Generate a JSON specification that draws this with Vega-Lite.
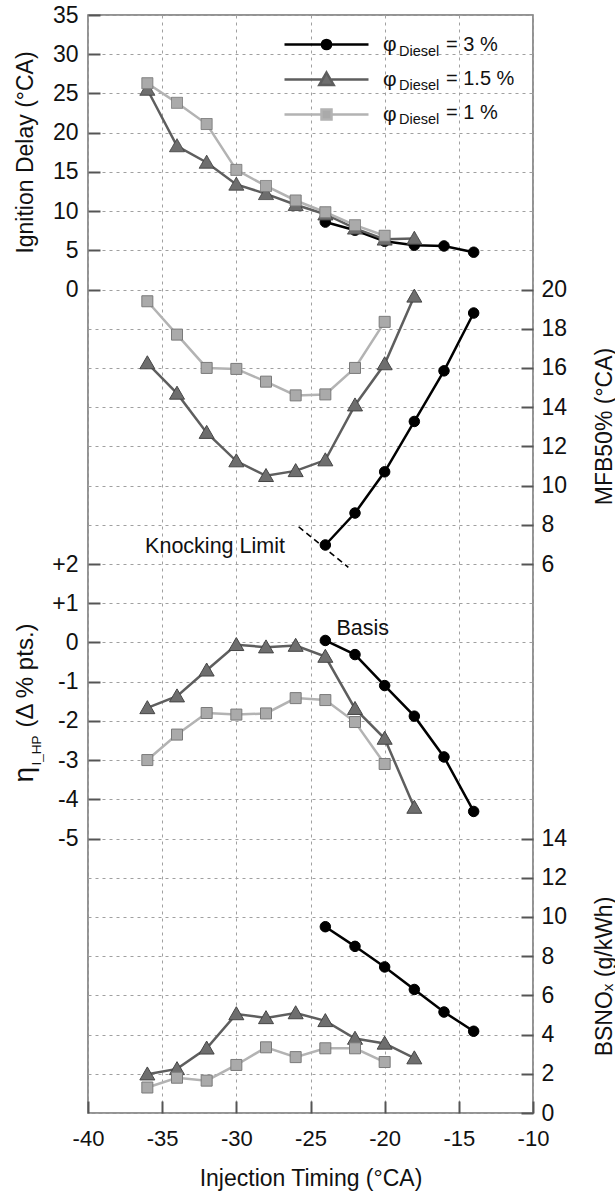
{
  "$schema": "https://vega.github.io/schema/vega-lite/v6.json",
  "width": 445,
  "height": 1098,
  "autosize": "none",
  "padding": {"left": 88, "top": 15, "right": 82, "bottom": 78},
  "background": "white",
  "config": {
    "font": "Liberation Sans",
    "view": {"stroke": "#707070", "strokeWidth": 1.5},
    "axis": {
      "labelFont": "Liberation Sans", "labelFontSize": 23, "labelColor": "#111",
      "titleFont": "Liberation Sans", "titleFontSize": 23, "titleFontWeight": "normal", "titleColor": "#111",
      "domain": false, "tickColor": "#555555", "tickWidth": 2, "tickSize": -12,
      "gridColor": "#a0a0a0", "gridDash": [3, 4], "gridWidth": 1,
      "labelFlush": false, "labelOverlap": false
    }
  },
  "data": {"values": [
    {"s": "3 %", "t": -24, "id": 8.6, "mfb": 6.97, "eta": 0.05, "nox": 9.5},
    {"s": "3 %", "t": -22, "id": 7.55, "mfb": 8.6, "eta": -0.31, "nox": 8.5},
    {"s": "3 %", "t": -20, "id": 6.15, "mfb": 10.7, "eta": -1.1, "nox": 7.45},
    {"s": "3 %", "t": -18, "id": 5.65, "mfb": 13.27, "eta": -1.88, "nox": 6.3},
    {"s": "3 %", "t": -16, "id": 5.55, "mfb": 15.85, "eta": -2.92, "nox": 5.15},
    {"s": "3 %", "t": -14, "id": 4.75, "mfb": 18.8, "eta": -4.31, "nox": 4.17},
    {"s": "1.5 %", "t": -36, "id": 25.5, "mfb": 16.25, "eta": -1.67, "nox": 1.98},
    {"s": "1.5 %", "t": -34, "id": 18.3, "mfb": 14.7, "eta": -1.37, "nox": 2.25},
    {"s": "1.5 %", "t": -32, "id": 16.2, "mfb": 12.7, "eta": -0.71, "nox": 3.3},
    {"s": "1.5 %", "t": -30, "id": 13.4, "mfb": 11.25, "eta": -0.06, "nox": 5.05},
    {"s": "1.5 %", "t": -28, "id": 12.2, "mfb": 10.5, "eta": -0.12, "nox": 4.85},
    {"s": "1.5 %", "t": -26, "id": 10.8, "mfb": 10.75, "eta": -0.08, "nox": 5.1},
    {"s": "1.5 %", "t": -24, "id": 9.6, "mfb": 11.3, "eta": -0.36, "nox": 4.7},
    {"s": "1.5 %", "t": -22, "id": 7.8, "mfb": 14.1, "eta": -1.69, "nox": 3.8},
    {"s": "1.5 %", "t": -20, "id": 6.4, "mfb": 16.2, "eta": -2.45, "nox": 3.55},
    {"s": "1.5 %", "t": -18, "id": 6.5, "mfb": 19.65, "eta": -4.21, "nox": 2.8},
    {"s": "1 %", "t": -36, "id": 26.3, "mfb": 19.4, "eta": -3.0, "nox": 1.3},
    {"s": "1 %", "t": -34, "id": 23.8, "mfb": 17.7, "eta": -2.35, "nox": 1.8},
    {"s": "1 %", "t": -32, "id": 21.1, "mfb": 16.0, "eta": -1.8, "nox": 1.65},
    {"s": "1 %", "t": -30, "id": 15.25, "mfb": 15.95, "eta": -1.84, "nox": 2.45},
    {"s": "1 %", "t": -28, "id": 13.2, "mfb": 15.3, "eta": -1.81, "nox": 3.35},
    {"s": "1 %", "t": -26, "id": 11.35, "mfb": 14.6, "eta": -1.42, "nox": 2.85},
    {"s": "1 %", "t": -24, "id": 9.85, "mfb": 14.65, "eta": -1.47, "nox": 3.3},
    {"s": "1 %", "t": -22, "id": 8.2, "mfb": 16.0, "eta": -2.03, "nox": 3.3},
    {"s": "1 %", "t": -20, "id": 6.85, "mfb": 18.35, "eta": -3.1, "nox": 2.6}
  ]},
  "encoding": {
    "x": {
      "field": "t", "type": "quantitative",
      "scale": {"domain": [-40, -10], "nice": false, "zero": false},
      "axis": {
        "values": [-40, -35, -30, -25, -20, -15, -10], "grid": true,
        "labelExpr": "'' + datum.value", "labelFontSize": 22, "labelPadding": 27,
        "title": "Injection Timing (°CA)", "titleY": 72, "titleBaseline": "alphabetic"
      }
    }
  },
  "layer": [
    {
      "encoding": {
        "y": {
          "field": "eta", "type": "quantitative",
          "scale": {"domain": [-12, 16], "nice": false, "zero": false},
          "axis": {
            "orient": "left",
            "values": [-12, -11, -10, -9, -8, -7, -6, -5, -4, -3, -2, -1, 0, 1, 2, 3, 4, 5, 6, 7, 8, 9, 10, 11, 12, 13, 14, 15, 16],
            "grid": true,
            "labelExpr": "datum.value >= -5 && datum.value <= 2 ? (datum.value > 0 ? '+' + datum.value : '' + datum.value) : ''",
            "tickOpacity": {"condition": {"test": "datum.value >= -5 && datum.value <= 2", "value": 1}, "value": 0},
            "labelPadding": 22,
            "title": "η", "titleFontSize": 28, "titleAngle": -90, "titleX": -56, "titleY": 767,
            "titleAlign": "left", "titleBaseline": "alphabetic"
          }
        }
      },
      "layer": [
        {
          "mark": {"type": "line", "strokeWidth": 2.5},
          "encoding": {"color": {"field": "s", "type": "nominal"}}
        },
        {
          "mark": {"type": "point", "filled": true, "opacity": 1, "strokeWidth": 1, "size": 100},
          "encoding": {
            "shape": {"field": "s", "type": "nominal", "legend": null},
            "fill": {"field": "s", "type": "nominal", "legend": null},
            "stroke": {"field": "s", "type": "nominal", "legend": null}
          }
        }
      ]
    },
    {
      "encoding": {
        "y": {
          "field": "id", "type": "quantitative",
          "scale": {"domain": [-105, 35], "nice": false, "zero": false},
          "axis": {
            "orient": "left", "values": [0, 5, 10, 15, 20, 25, 30, 35], "grid": false,
            "labelExpr": "'' + datum.value", "labelPadding": 22,
            "title": "Ignition Delay (°CA)", "titleAngle": -90, "titleX": -56, "titleY": 137,
            "titleAlign": "center", "titleBaseline": "alphabetic"
          }
        }
      },
      "layer": [
        {
          "mark": {"type": "line", "strokeWidth": 2.5},
          "encoding": {
            "color": {
              "field": "s", "type": "nominal",
              "scale": {"domain": ["3 %", "1.5 %", "1 %"], "range": ["#000000", "#5e5e5e", "#b3b3b3"]},
              "legend": {
                "orient": "none", "legendX": 227, "legendY": 18, "title": null, "padding": 0,
                "symbolSize": 400, "symbolStrokeWidth": 2.5, "labelOffset": 45, "rowPadding": 12, "labelLimit": 300,
                "labelFontSize": 21, "labelFont": "Liberation Sans", "labelColor": "#111",
                "labelExpr": "'φ'",
                "encode": {
                  "symbols": {
                    "update": {
                      "shape": {"signal": "datum.value === '3 %' ? 'M-4.2,0H-0.5M0.5,0H4.2M-0.46,0A0.46,0.46,0,1,1,0.46,0A0.46,0.46,0,1,1,-0.46,0Z' : datum.value === '1.5 %' ? 'M-4.2,0H-0.45M0.45,0H4.2M0,-0.7L0.72,0.56L-0.72,0.56Z' : 'M-4.2,0H-0.52M0.52,0H4.2M-0.5,-0.5H0.5V0.5H-0.5Z'"},
                      "fill": {"signal": "datum.value === '3 %' ? '#000000' : datum.value === '1.5 %' ? '#6e6e6e' : '#aaaaaa'"},
                      "strokeWidth": {"value": 2.5},
                      "opacity": {"value": 1}
                    }
                  }
                }
              }
            }
          }
        },
        {
          "mark": {"type": "point", "filled": true, "opacity": 1, "strokeWidth": 1, "size": 100},
          "encoding": {
            "shape": {"field": "s", "type": "nominal", "scale": {"range": ["M-1.1,-1.1H1.1V1.1H-1.1Z", "M0,-1.45L1.5,1.15L-1.5,1.15Z", "M-1.05,0A1.05,1.05,0,1,1,1.05,0A1.05,1.05,0,1,1,-1.05,0Z"]}, "legend": null},
            "fill": {"field": "s", "type": "nominal", "scale": {"range": ["#aaaaaa", "#6e6e6e", "#000000"]}, "legend": null},
            "stroke": {"field": "s", "type": "nominal", "scale": {"range": ["#7a7a7a", "#454545", "#000000"]}, "legend": null},
            "strokeDash": {
              "field": "s", "type": "nominal",
              "scale": {"domain": ["1 %", "1.5 %", "3 %"], "range": [[1, 0], [1, 0], [1, 0]]},
              "legend": {
                "orient": "none", "legendX": 243, "legendY": 25.5, "title": null, "padding": 0,
                "symbolSize": 400, "symbolStrokeWidth": 2.5, "symbolOpacity": 0, "labelOffset": 45, "rowPadding": 12, "labelLimit": 300,
                "labelFontSize": 14.5, "labelFont": "Liberation Sans", "labelColor": "#111",
                "labelExpr": "'Diesel'"
              }
            },
            "opacity": {
              "field": "s", "type": "ordinal", "sort": "descending",
              "scale": {"range": [1, 1]},
              "legend": {
                "orient": "none", "legendX": 290, "legendY": 18, "title": null, "padding": 0,
                "symbolSize": 400, "symbolStrokeWidth": 2.5, "symbolType": "M0,0", "symbolFillColor": "transparent", "symbolStrokeColor": "transparent",
                "labelOffset": 45, "rowPadding": 12, "labelLimit": 300,
                "labelFontSize": 20, "labelFont": "Liberation Sans", "labelColor": "#111",
                "labelExpr": "'= ' + datum.label"
              }
            }
          }
        }
      ]
    },
    {
      "encoding": {
        "y": {
          "field": "mfb", "type": "quantitative",
          "scale": {"domain": [-22, 34], "nice": false, "zero": false},
          "axis": {
            "orient": "right", "values": [6, 8, 10, 12, 14, 16, 18, 20], "grid": false,
            "labelExpr": "'' + datum.value", "labelPadding": 20,
            "title": "MFB50% (°CA)", "titleAngle": -90, "titleX": 78, "titleY": 411,
            "titleAlign": "center", "titleBaseline": "alphabetic"
          }
        }
      },
      "layer": [
        {
          "mark": {"type": "line", "strokeWidth": 2.5},
          "encoding": {"color": {"field": "s", "type": "nominal"}}
        },
        {
          "mark": {"type": "point", "filled": true, "opacity": 1, "strokeWidth": 1, "size": 100},
          "encoding": {
            "shape": {"field": "s", "type": "nominal", "legend": null},
            "fill": {"field": "s", "type": "nominal", "legend": null},
            "stroke": {"field": "s", "type": "nominal", "legend": null}
          }
        }
      ]
    },
    {
      "encoding": {
        "y": {
          "field": "nox", "type": "quantitative",
          "scale": {"domain": [0, 56], "nice": false, "zero": false},
          "axis": {
            "orient": "right", "values": [0, 2, 4, 6, 8, 10, 12, 14], "grid": false,
            "labelExpr": "'' + datum.value", "labelPadding": 20,
            "title": "BSNOₓ (g/kWh)", "titleAngle": -90, "titleX": 78, "titleY": 961,
            "titleAlign": "center", "titleBaseline": "alphabetic"
          }
        }
      },
      "layer": [
        {
          "mark": {"type": "line", "strokeWidth": 2.5},
          "encoding": {"color": {"field": "s", "type": "nominal"}}
        },
        {
          "mark": {"type": "point", "filled": true, "opacity": 1, "strokeWidth": 1, "size": 100},
          "encoding": {
            "shape": {"field": "s", "type": "nominal", "legend": null},
            "fill": {"field": "s", "type": "nominal", "legend": null},
            "stroke": {"field": "s", "type": "nominal", "legend": null}
          }
        }
      ]
    },
    {
      "transform": [{"filter": "datum.s === '3 %' && datum.t === -24"}],
      "mark": {"type": "rule", "strokeDash": [6, 4], "strokeWidth": 1.6, "color": "#000000"},
      "encoding": {
        "x": {"datum": -25.8}, "x2": {"datum": -22.45},
        "y": {"datum": 7.9, "type": "quantitative", "scale": {"domain": [-22, 34], "nice": false, "zero": false}, "axis": null},
        "y2": {"datum": 5.83}
      }
    },
    {
      "transform": [{"filter": "datum.s === '3 %' && datum.t === -24"}],
      "mark": {"type": "text", "text": "Knocking Limit", "align": "left", "baseline": "middle", "fontSize": 21.5, "color": "#111", "font": "Liberation Sans"},
      "encoding": {
        "x": {"datum": -36.15},
        "y": {
          "datum": 6.85, "type": "quantitative", "scale": {"domain": [-22, 34], "nice": false, "zero": false},
          "axis": {
            "orient": "left", "labels": false, "ticks": false, "grid": false, "domain": false,
            "title": "(Δ % pts.)", "titleFontSize": 24, "titleAngle": -90, "titleX": -56, "titleY": 712,
            "titleAlign": "left", "titleBaseline": "alphabetic"
          }
        }
      }
    },
    {
      "transform": [{"filter": "datum.s === '3 %' && datum.t === -24"}],
      "mark": {"type": "text", "text": "Basis", "align": "left", "baseline": "middle", "fontSize": 21.5, "color": "#111", "font": "Liberation Sans"},
      "encoding": {
        "x": {"datum": -23.25},
        "y": {
          "datum": 0.33, "type": "quantitative", "scale": {"domain": [-12, 16], "nice": false, "zero": false},
          "axis": {
            "orient": "left", "labels": false, "ticks": false, "grid": false, "domain": false,
            "title": "I_HP", "titleFontSize": 13.5, "titleAngle": -90, "titleX": -48, "titleY": 750,
            "titleAlign": "left", "titleBaseline": "alphabetic"
          }
        }
      }
    }
  ],
  "resolve": {"scale": {"y": "independent"}, "axis": {"y": "independent"}}
}
